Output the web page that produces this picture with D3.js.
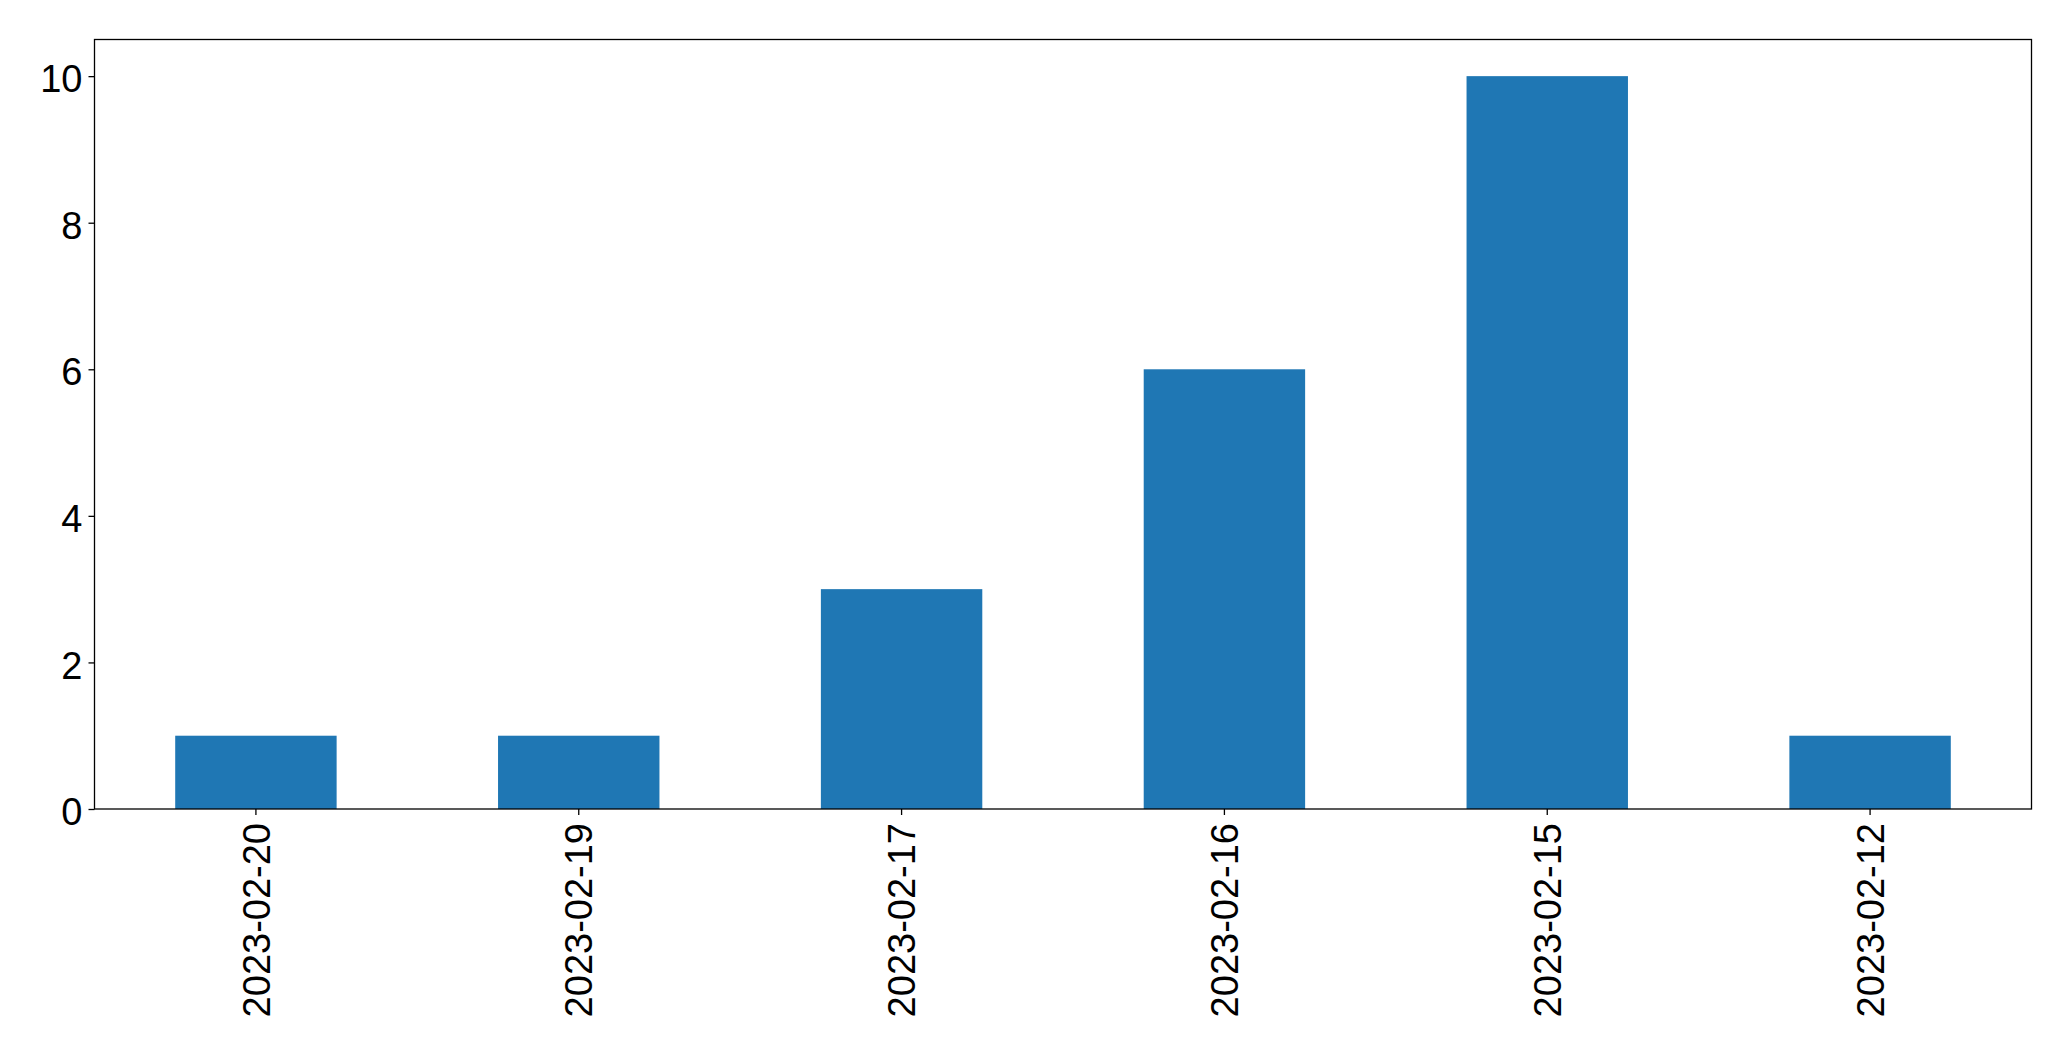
<!DOCTYPE html>
<html><head><meta charset="utf-8">
<script src="https://cdn.jsdelivr.net/npm/d3@7"></script>
<style>body{margin:0;background:#fff}svg{display:block}</style>
</head><body>
<script>
const categories = ["2023-02-20","2023-02-19","2023-02-17","2023-02-16","2023-02-15","2023-02-12"];
const values = [1,1,3,6,10,1];
const yTicks = [0,2,4,6,8,10];

const W = 2071, H = 1061;
const m = {left: 94.5, right: 2031.5, top: 39.5, bottom: 809};
const svg = d3.select("body").append("svg").attr("width", W).attr("height", H);

const x = d3.scaleBand().domain(categories).range([m.left, m.right]).paddingInner(0.5).paddingOuter(0.25);
const y = d3.scaleLinear().domain([0, 10.5]).range([m.bottom, m.top]);

svg.selectAll("rect.bar").data(values).enter().append("rect")
  .attr("class","bar")
  .attr("x", (d,i) => x(categories[i]))
  .attr("width", x.bandwidth())
  .attr("y", d => y(d))
  .attr("height", d => y(0) - y(d))
  .attr("fill", "#1f77b4");

const font = "'Liberation Sans', Arial, sans-serif";
const fs = "38px";

const yAxis = svg.append("g").attr("transform", `translate(${m.left},0)`)
  .call(d3.axisLeft(y).tickValues(yTicks).tickFormat(d3.format("d")).tickSize(6).tickPadding(6));
yAxis.select(".domain").remove();
yAxis.selectAll("line").attr("stroke","#000").attr("stroke-width",1.3);
yAxis.selectAll("text").attr("font-family", font).attr("font-size", fs).attr("fill","#000").attr("dy","0.41em");

const xAxis = svg.append("g").attr("transform", `translate(0,${m.bottom})`)
  .call(d3.axisBottom(x).tickSize(6));
xAxis.select(".domain").remove();
xAxis.selectAll("line").attr("stroke","#000").attr("stroke-width",1.3);
xAxis.selectAll("text")
  .attr("font-family", font).attr("font-size", fs).attr("fill","#000")
  .attr("transform","rotate(-90)")
  .attr("text-anchor","end")
  .attr("x", -14).attr("y", 0).attr("dy","0.36em");

svg.append("rect").attr("x", m.left).attr("y", m.top)
  .attr("width", m.right - m.left).attr("height", m.bottom - m.top)
  .attr("fill","none").attr("stroke","#000").attr("stroke-width",1.3);
</script>
</body></html>
